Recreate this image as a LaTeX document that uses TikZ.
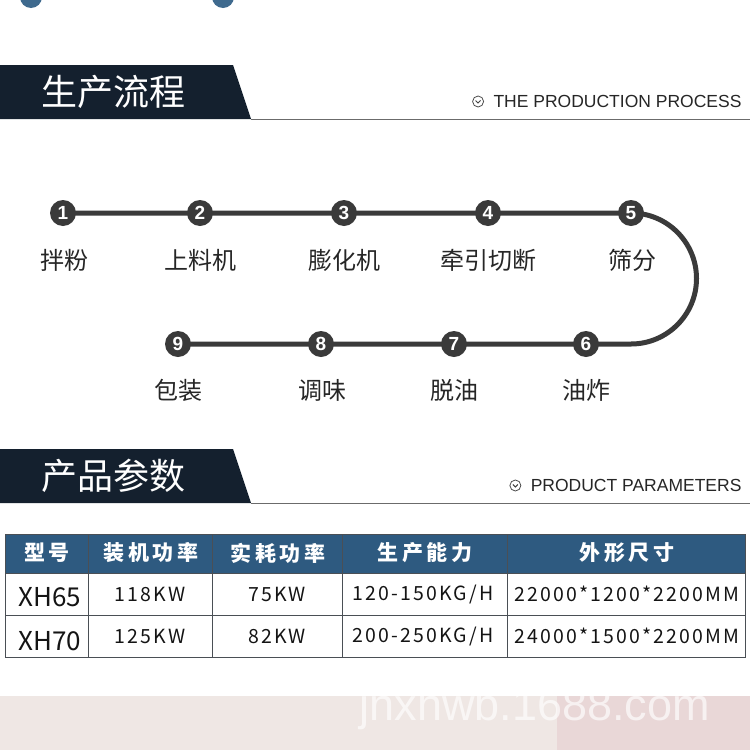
\documentclass[tikz,border=0pt]{standalone}
\usepackage{fontspec}
\setmainfont{Liberation Sans}
\newfontfamily\cjk{Noto Sans CJK SC}
\newfontfamily\cjkhd[LetterSpace=18]{Noto Sans CJK SC}
\newfontfamily\cjksp[LetterSpace=11]{Noto Sans CJK SC}
\usetikzlibrary{positioning,backgrounds}
\definecolor{navy}{HTML}{14202E}
\definecolor{rulec}{HTML}{6B6B6B}
\definecolor{stepc}{HTML}{3A3A3A}
\definecolor{headc}{HTML}{2E5A80}
\definecolor{gridc}{HTML}{4A4F55}
\definecolor{bandL}{HTML}{EFE7E4}
\definecolor{bandR}{HTML}{E9D7D7}
\definecolor{dotc}{HTML}{3F6A8E}
\tikzset{
  bar/.style={fill=navy},
  rule/.style={rulec, line width=1.6pt},
  bartitle/.style={anchor=west, text=white, font=\cjk\fontsize{36}{36}\selectfont},
  subtitle/.style={anchor=east, text=black!85, font=\fontsize{17.5}{17.5}\selectfont},
  icon/.style={circle, draw=black!70, line width=0.8pt, inner sep=0pt, minimum size=11pt},
  chev/.style={black!75, line width=0.9pt},
  stepdot/.style={circle, fill=stepc, inner sep=0pt, minimum size=26pt, text=white, font=\bfseries\fontsize{19}{19}\selectfont},
  steplbl/.style={text=black!85, font=\cjk\fontsize{24}{24}\selectfont},
  flow/.style={stepc, line width=5pt, line join=round},
  grid/.style={gridc, line width=1pt},
  headtxt/.style={text=white, font=\cjkhd\bfseries\fontsize{21}{21}\selectfont},
  celltxt/.style={text=black!92, font=\cjksp\fontsize{19.5}{19.5}\selectfont},
  model/.style={text=black!92, font=\cjk\fontsize{26}{26}\selectfont},
  wmark/.style={anchor=base west, text=white, opacity=0.65, font=\fontsize{45}{45}\selectfont},
}
\newcommand{\secbar}[4]{%
  \fill[bar] (0,#2) -- (233,#2) -- (251,#2+54) -- (0,#2+54) -- cycle;
  \draw[rule] (251,#2+54.5) -- (750,#2+54.5);
  \node[bartitle] (#1t) at (38,#2+27) {#3};
  \node[subtitle] (#1e) at (745,#2+36.5) {#4};
  \node[icon, left=6pt of #1e] (#1i) {};
  \draw[chev] ([xshift=-2.5pt,yshift=1pt]#1i.center) -- ([yshift=-1.5pt]#1i.center)
    -- ([xshift=2.5pt,yshift=1pt]#1i.center);}

\begin{document}
\begin{tikzpicture}[x=1pt,y=-1pt]
  \useasboundingbox (0,0) rectangle (750,750);
  \begin{scope}[on background layer]
    \fill[white] (0,0) rectangle (750,750);
    \fill[bandL] (0,696) rectangle (750,750);
    \fill[bandR] (557,696) rectangle (750,750);
    \fill[dotc] (31,-3) circle (11);
    \fill[dotc] (223,-3) circle (11);
  \end{scope}

  % production process
  \secbar{p}{65}{生产流程}{THE PRODUCTION PROCESS}
  \node[stepdot] (s1) at (63,213) {1};
  \node[stepdot] (s2) at (200,213) {2};
  \node[stepdot] (s3) at (344,213) {3};
  \node[stepdot] (s4) at (488,213) {4};
  \node[stepdot] (s5) at (631,213) {5};
  \node[stepdot] (s6) at (586,344) {6};
  \node[stepdot] (s7) at (454,344) {7};
  \node[stepdot] (s8) at (321,344) {8};
  \node[stepdot] (s9) at (178,344) {9};
  \node[steplbl] (l1) at (64,260) {拌粉};
  \node[steplbl] (l2) at (200,260) {上料机};
  \node[steplbl] (l3) at (344,260) {膨化机};
  \node[steplbl] (l4) at (488,260) {牵引切断};
  \node[steplbl] (l5) at (632,260) {筛分};
  \node[steplbl] (l6) at (586,390) {油炸};
  \node[steplbl] (l7) at (454,390) {脱油};
  \node[steplbl] (l8) at (322,390) {调味};
  \node[steplbl] (l9) at (178,390) {包装};
  \begin{scope}[on background layer]
    \draw[flow] (s1.center) -- (s5.center) arc[start angle=-90, end angle=90, radius=65.5]
      -- (s9.center);
  \end{scope}

  % product parameters
  \secbar{q}{449}{产品参数}{PRODUCT PARAMETERS}
  \fill[headc] (5,534) rectangle (745,573);
  \draw[grid] (5,534) rectangle (745,657);
  \draw[grid] (5,573) -- (745,573);
  \draw[grid] (5,615) -- (745,615);
  \foreach \cx in {88,212,342,507} \draw[grid] (\cx,534) -- (\cx,657);
  \node[headtxt] (h1) at (47,553) {型号};
  \node[headtxt] (h2) at (151,553) {装机功率};
  \node[headtxt] (h3) at (278,553) {实耗功率};
  \node[headtxt] (h4) at (425,553) {生产能力};
  \node[headtxt] (h5) at (627,553) {外形尺寸};
  \node[model] (a1) at (50,597) {XH65};
  \node[celltxt] (a2) at (150,594) {118KW};
  \node[celltxt] (a3) at (277,594) {75KW};
  \node[celltxt] (a4) at (423,594) {120-150KG/H};
  \node[celltxt] (a5) at (627,594) {22000*1200*2200MM};
  \node[model] (b1) at (50,641) {XH70};
  \node[celltxt] (b2) at (150,636) {125KW};
  \node[celltxt] (b3) at (277,636) {82KW};
  \node[celltxt] (b4) at (423,636) {200-250KG/H};
  \node[celltxt] (b5) at (627,636) {24000*1500*2200MM};

  \begin{scope}
    \clip (0,696) rectangle (750,750);
    \node[wmark] (wm) at (356,720) {jnxhwb.1688.com};
  \end{scope}
\end{tikzpicture}
\end{document}
